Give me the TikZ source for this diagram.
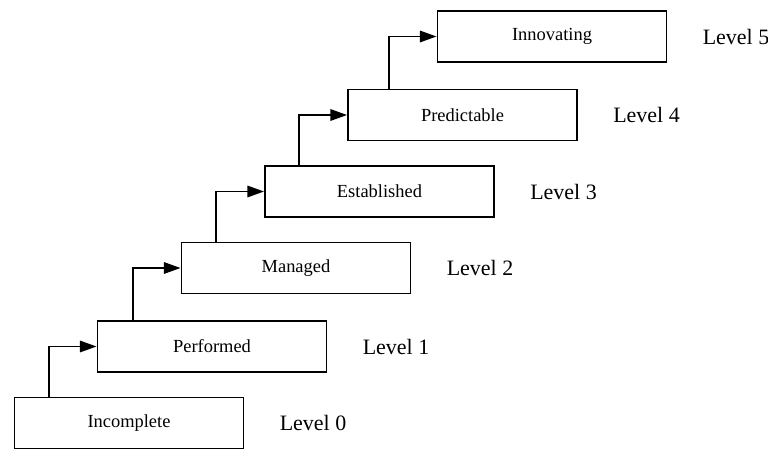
\documentclass[tikz,border=0pt]{standalone}
\usepackage{fontspec}
\setmainfont{Liberation Serif}
\usetikzlibrary{positioning,arrows.meta}
\tikzset{
    stage/.style={draw,line width=1.1pt,minimum width=4.58cm,minimum height=1.02cm,
                  inner sep=0pt,font=\fontsize{10.5}{12}\selectfont},
    level/.style={font=\fontsize{12.5}{14}\selectfont,inner sep=0pt},
    arr/.style={line width=1.1pt,-{Triangle[length=9.5pt,width=6.5pt]}}
}
\begin{document}
\begin{tikzpicture}[x=0.02cm,y=-0.02cm]
        \useasboundingbox (0,0) rectangle (768,450);

        \node[stage] (s0) at (129,423) {Incomplete};
        \node[stage] (s1) at (212,346.5) {Performed};
        \node[stage] (s2) at (296,268) {Managed};
        \node[stage] (s3) at (379.5,191.5) {Established};
        \node[stage] (s4) at (462.5,115) {Predictable};
        \node[stage] (s5) at (552,36.5) {Innovating};

        \node[level, right=0.7cm of s0] (l0) {Level 0};
        \node[level, right=0.7cm of s1] (l1) {Level 1};
        \node[level, right=0.7cm of s2] (l2) {Level 2};
        \node[level, right=0.7cm of s3] (l3) {Level 3};
        \node[level, right=0.7cm of s4] (l4) {Level 4};
        \node[level, right=0.7cm of s5] (l5) {Level 5};

        % corners of the steps
        \foreach \i in {1,...,5}
            \coordinate (k\i) at ([xshift=-0.96cm]s\i.west);

        \draw[arr] (s0.north -| k1) |- (s1.west);
        \draw[arr] (s1.north -| k2) |- (s2.west);
        \draw[arr] (s2.north -| k3) |- (s3.west);
        \draw[arr] (s3.north -| k4) |- (s4.west);
        \draw[arr] (s4.north -| k5) |- (s5.west);
\end{tikzpicture}
\end{document}
